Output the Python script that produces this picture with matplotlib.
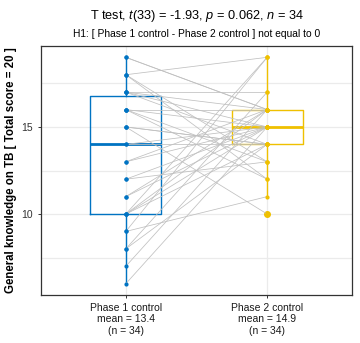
import matplotlib
matplotlib.use("Agg")
import matplotlib.pyplot as plt
import numpy as np

plt.rcParams["font.family"] = ["Liberation Sans", "DejaVu Sans"]
plt.rcParams["mathtext.fontset"] = "custom"
plt.rcParams["mathtext.rm"] = "Liberation Sans"
plt.rcParams["mathtext.it"] = "Liberation Sans:italic"

# Paired scores, one entry per participant
phase1 = [6, 7, 8, 8, 9, 9, 10, 10, 10, 10, 11, 11, 12, 12, 13, 13, 14, 14,
          15, 15, 15, 16, 16, 16, 16, 17, 17, 17, 17, 18, 18, 18, 19, 19]
phase2 = [15, 16, 14, 17, 19, 11, 19, 16, 14, 15, 16, 15, 13, 15, 16, 15, 14, 15,
          10, 14, 14, 16, 15, 13, 12, 17, 16, 15, 14, 19, 13, 12, 16, 16]

groups = ["Phase 1 control", "Phase 2 control"]
colors = ["#0073C2", "#EFC000"]
n = len(phase1)
title_stats = dict(t="-1.93", df=33, p="0.062", n=n)

data = [np.array(phase1), np.array(phase2)]
means = [d.mean() for d in data]

fig = plt.figure(figsize=(3.6, 3.43), dpi=100)
ax = fig.add_axes([41 / 360, 1 - 295 / 343, 311 / 360, 249 / 343])

# grid
ax.set_axisbelow(True)
ax.set_yticks([7.5, 12.5, 17.5], minor=True)
ax.grid(True, which="major", color="#ebebeb", lw=0.9)
ax.grid(True, which="minor", axis="y", color="#ebebeb", lw=0.9)
ax.tick_params(which="minor", left=False)

# paired lines
for a, b in zip(phase1, phase2):
    ax.plot([1, 2], [a, b], color="#c0c0c0", lw=0.55, zorder=3, solid_capstyle="butt")

# boxplots
for i, (d, c) in enumerate(zip(data, colors)):
    ax.boxplot(d, positions=[i + 1], widths=0.5, showcaps=False,
               boxprops=dict(color=c, lw=1.0),
               whiskerprops=dict(color=c, lw=1.0),
               medianprops=dict(color=c, lw=2.0),
               flierprops=dict(marker="o", markersize=4, markerfacecolor=c,
                               markeredgecolor=c),
               manage_ticks=False, zorder=2)

# points
for i, (d, c) in enumerate(zip(data, colors)):
    ax.scatter(np.full(len(d), i + 1), d, s=9, color=c, zorder=4, lw=0)

ax.set_xlim(0.4, 2.6)
ax.set_ylim(5.35, 19.65)
ax.set_yticks([10, 15])
ax.set_xticks([1, 2])
ax.set_xticklabels([f"{g}\nmean = {m:.1f}\n(n = {len(d)})"
                    for g, m, d in zip(groups, means, data)],
                   fontsize=7.5, color="#1a1a1a", linespacing=1.2)
ax.tick_params(axis="y", labelsize=7.5, labelcolor="#333333", length=2.5,
               width=0.7, color="#333333")
ax.tick_params(axis="x", length=2.5, width=0.7, color="#333333", pad=3)

for s in ax.spines.values():
    s.set_color("#333333")
    s.set_linewidth(0.9)

ax.set_ylabel("General knowledge on TB [ Total score = 20 ]", fontsize=8.3,
              fontweight="bold", labelpad=3)

fig.text(196.5 / 360, 1 - 18.5 / 343,
         f"T test, $t$({title_stats['df']}) = {title_stats['t']}, "
         f"$p$ = {title_stats['p']}, $n$ = {title_stats['n']}",
         ha="center", va="baseline", fontsize=9.2)
fig.text(196.5 / 360, 1 - 37 / 343,
         "H1: [ Phase 1 control - Phase 2 control ] not equal to 0",
         ha="center", va="baseline", fontsize=7.4)

fig.savefig("out.png", dpi=100)
